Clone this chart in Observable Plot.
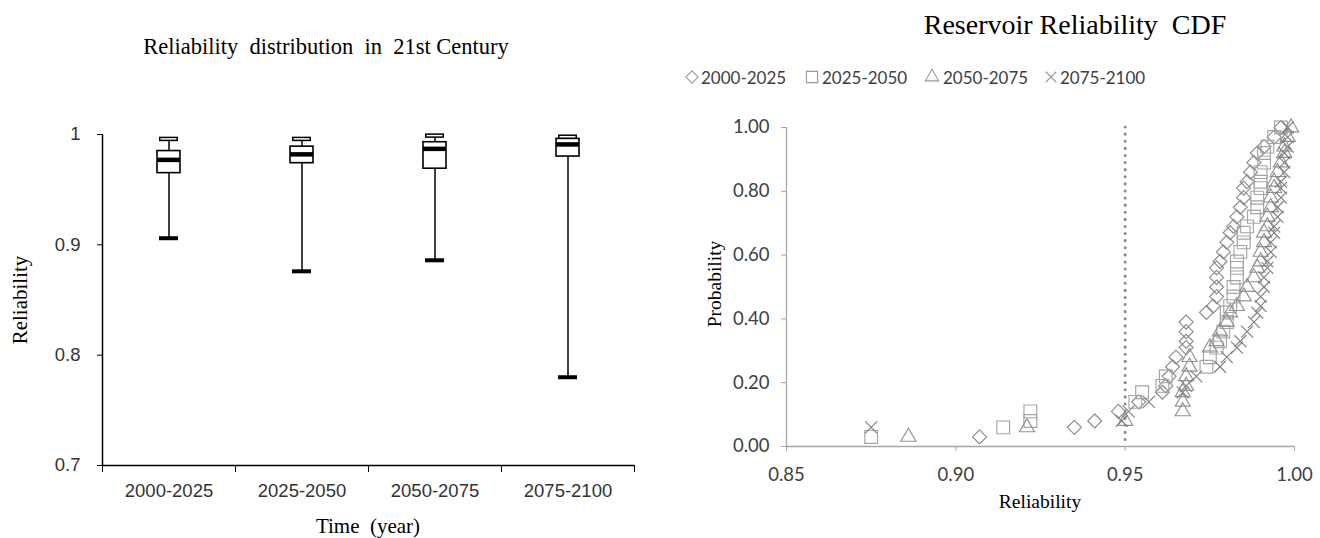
<!DOCTYPE html>
<html><head><meta charset="utf-8">
<script src="https://cdn.jsdelivr.net/npm/d3@7"></script>
<script src="https://cdn.jsdelivr.net/npm/@observablehq/plot@0.6"></script>
<style>
body{margin:0;background:#fff;}
#wrap{position:relative;width:1320px;height:538px;overflow:hidden;background:#fff;}
#wrap svg.plot{position:absolute;top:0;}
.t{position:absolute;white-space:pre;line-height:1;transform:translate(-50%,-50%);color:#000;}
.serif{font-family:"Liberation Serif","Times New Roman",serif;}
.leg{position:absolute;white-space:pre;line-height:1;font-family:Lato,sans-serif;font-size:17px;color:#404040;transform:translateY(-50%);}
.sym{position:absolute;}
</style></head><body><div id="wrap"></div>
<script>
// ---------- Left chart: box plot summary ----------
const periods   = ["2000-2025", "2025-2050", "2050-2075", "2075-2100"];
const boxMin    = [0.906, 0.876, 0.886, 0.780];
const boxQ1     = [0.965, 0.974, 0.969, 0.980];
const boxMedian = [0.977, 0.982, 0.987, 0.991];
const boxQ3     = [0.985, 0.989, 0.993, 0.996];
const boxMax    = [0.996, 0.996, 0.999, 0.998];
const boxYTicks = [0.7, 0.8, 0.9, 1];

// ---------- Right chart: CDF points ----------
const probability = [0.03,0.06,0.08,0.11,0.14,0.17,0.19,0.22,0.25,0.28,0.31,0.33,0.36,0.39,0.42,0.44,0.47,0.50,
                     0.53,0.56,0.58,0.61,0.64,0.67,0.69,0.72,0.75,0.78,0.81,0.83,0.86,0.89,0.92,0.94,0.97,1.00];
const rel2000 = [0.907,0.935,0.941,0.948,0.954,0.961,0.962,0.963,0.964,0.965,0.968,0.968,0.968,0.968,0.974,0.976,0.977,0.977,
                 0.977,0.977,0.978,0.979,0.980,0.981,0.982,0.983,0.984,0.985,0.985,0.986,0.987,0.988,0.989,0.991,0.994,0.996];
const rel2025 = [0.875,0.914,0.922,0.922,0.953,0.955,0.961,0.962,0.974,0.975,0.977,0.978,0.979,0.980,0.980,0.981,0.982,0.982,
                 0.983,0.983,0.983,0.984,0.985,0.985,0.986,0.988,0.989,0.989,0.990,0.990,0.990,0.991,0.991,0.992,0.994,0.996];
const rel2050 = [0.886,0.921,0.950,0.967,0.967,0.967,0.968,0.968,0.969,0.969,0.975,0.977,0.978,0.980,0.981,0.983,0.985,0.986,
                 0.988,0.989,0.990,0.990,0.991,0.991,0.992,0.992,0.993,0.993,0.994,0.994,0.995,0.996,0.997,0.997,0.998,0.999];
const rel2075 = [0.780,0.875,0.949,0.951,0.957,0.967,0.968,0.971,0.978,0.980,0.983,0.984,0.986,0.988,0.989,0.990,0.990,0.991,
                 0.991,0.992,0.992,0.993,0.993,0.994,0.994,0.995,0.995,0.996,0.996,0.996,0.997,0.997,0.997,0.998,0.998,0.998];
const cdfXTicks = [0.85, 0.90, 0.95, 1.00];
const cdfYTicks = [0, 0.2, 0.4, 0.6, 0.8, 1.0];
const threshold = [0.95];

const seriesValues = [rel2000, rel2025, rel2050, rel2075];
const seriesStyle = [
  {symbol: "diamond2", d3sym: d3.symbolDiamond2, r: 6.3, color: "#8c8c8c"},
  {symbol: "square",   d3sym: d3.symbolSquare,   r: 7.2, color: "#a5a5a5"},
  {symbol: "triangle", d3sym: d3.symbolTriangle, r: 5.6, color: "#929292"},
  {symbol: "times",    d3sym: d3.symbolTimes,    r: 5.5, color: "#7f7f7f"}
];

const wrap = document.getElementById("wrap");

// ---- left plot
const boxes = periods.map((period, i) => ({period, i, min: boxMin[i], q1: boxQ1[i], median: boxMedian[i], q3: boxQ3[i], max: boxMax[i]}));
const bx1 = d => d.i, bx2 = d => d.i + 1;
const left = Plot.plot({
  width: 660, height: 538,
  marginLeft: 102, marginRight: 26, marginTop: 134, marginBottom: 73,
  x: {type: "linear", domain: [0, periods.length]},
  y: {domain: [0.7, 1]},
  style: {fontFamily: "'Liberation Sans', Arial, sans-serif", fontSize: "18.5px", background: "transparent", overflow: "visible"},
  marks: [
    Plot.ruleX(boxes, {x: d => d.i + 0.5, y1: "min", y2: "max", stroke: "#000", strokeWidth: 1.5}),
    Plot.rect(boxes, {x1: bx1, x2: bx2, y1: "q1", y2: "q3", fill: "#fff", stroke: "#000", strokeWidth: 1.6, insetLeft: 55, insetRight: 55}),
    Plot.ruleY(boxes, {y: "median", x1: bx1, x2: bx2, insetLeft: 55, insetRight: 55, stroke: "#000", strokeWidth: 4.5}),
    Plot.ruleY(boxes, {y: "min", x1: bx1, x2: bx2, insetLeft: 57, insetRight: 57, stroke: "#000", strokeWidth: 4}),
    Plot.ruleY(boxes, {y: "max", x1: bx1, x2: bx2, insetLeft: 57, insetRight: 57, stroke: "#000", strokeWidth: 4.5}),
    Plot.ruleY(boxes, {y: "max", x1: bx1, x2: bx2, insetLeft: 58.5, insetRight: 58.5, stroke: "#fff", strokeWidth: 1.5}),
    Plot.ruleX([0], {stroke: "#000", strokeWidth: 1.5}),
    Plot.ruleY([0.7], {stroke: "#000", strokeWidth: 1.5}),
    Plot.axisY({ticks: boxYTicks, tickFormat: d3.format("~g"), tickSize: 5, tickPadding: 17, stroke: "#000", fill: "#333", label: null}),
    Plot.axisX({ticks: d3.range(periods.length + 1), tickFormat: () => "", tickSize: 7, stroke: "#000", label: null}),
    Plot.axisX({ticks: periods.map((p, i) => i + 0.5), tickFormat: t => periods[Math.floor(t)], tickSize: 0, tickPadding: 18, fill: "#333", label: null})
  ]
});
left.classList.add("plot");
left.style.left = "0px";
wrap.appendChild(left);

// ---- right plot
const dotMarks = seriesValues.map((vals, s) => {
  const data = vals.map((v, k) => ({rel: v, p: probability[k]}));
  const st = seriesStyle[s];
  return Plot.dot(data, {x: "rel", y: "p", filter: d => d.rel >= 0.85, symbol: st.symbol, r: st.r, stroke: st.color, fill: "none", strokeWidth: 1.15});
});
const right = Plot.plot({
  width: 660, height: 538,
  marginLeft: 126, marginRight: 26, marginTop: 127, marginBottom: 92,
  x: {domain: [0.85, 1]},
  y: {domain: [0, 1]},
  style: {fontFamily: "Lato, sans-serif", fontSize: "18.5px", background: "transparent", overflow: "visible"},
  marks: [
    Plot.ruleX(threshold, {stroke: "#8a8a8a", strokeWidth: 3, strokeDasharray: "0.1,7", strokeLinecap: "round"}),
    ...dotMarks,
    Plot.ruleX([0.85], {stroke: "#a6a6a6", strokeWidth: 1.3}),
    Plot.ruleY([0], {stroke: "#a6a6a6", strokeWidth: 1.3}),
    Plot.axisY({ticks: cdfYTicks, tickFormat: d3.format(".2f"), tickSize: 5, tickPadding: 12, stroke: "#a6a6a6", fill: "#404040", label: null}),
    Plot.axisX({ticks: cdfXTicks, tickFormat: d3.format(".2f"), tickSize: 5, tickPadding: 16, stroke: "#a6a6a6", fill: "#404040", label: null})
  ]
});
right.classList.add("plot");
right.style.left = "660px";
wrap.appendChild(right);

// ---- texts
function addText(txt, x, y, size, cls, rotate) {
  const d = document.createElement("div");
  d.className = "t " + cls;
  d.textContent = txt;
  d.style.left = x + "px"; d.style.top = y + "px"; d.style.fontSize = size + "px";
  if (rotate) d.style.transform = "translate(-50%,-50%) rotate(-90deg)";
  wrap.appendChild(d);
}
addText("Reliability  distribution  in  21st Century", 326, 47, 22.5, "serif");
addText("Reliability", 20, 300, 21, "serif", true);
addText("Time  (year)", 368, 526, 21, "serif");
addText("Reservoir Reliability  CDF", 1075, 25, 28, "serif");
addText("Probability", 715, 284, 19.5, "serif", true);
addText("Reliability", 1040, 502, 19.5, "serif");

// ---- legend
const legSym = [692, 811.5, 931.5, 1050.5];
const legTxt = [701, 822, 943, 1060];
periods.forEach((p, i) => {
  const st = seriesStyle[i];
  const ns = "http://www.w3.org/2000/svg";
  const svg = document.createElementNS(ns, "svg");
  svg.setAttribute("width", 18); svg.setAttribute("height", 18);
  svg.setAttribute("class", "sym");
  svg.style.left = (legSym[i] - 9) + "px"; svg.style.top = (77 - 9) + "px";
  const path = document.createElementNS(ns, "path");
  const sz = Math.PI * (st.r * 0.88) ** 2;
  path.setAttribute("d", d3.symbol(st.d3sym, sz)());
  path.setAttribute("transform", "translate(9,9)");
  path.setAttribute("fill", "none"); path.setAttribute("stroke", "#9a9a9a"); path.setAttribute("stroke-width", "1.1");
  svg.appendChild(path);
  wrap.appendChild(svg);
  const d = document.createElement("div");
  d.className = "leg"; d.textContent = p;
  d.style.left = legTxt[i] + "px"; d.style.top = "77px";
  wrap.appendChild(d);
});
</script></body></html>
